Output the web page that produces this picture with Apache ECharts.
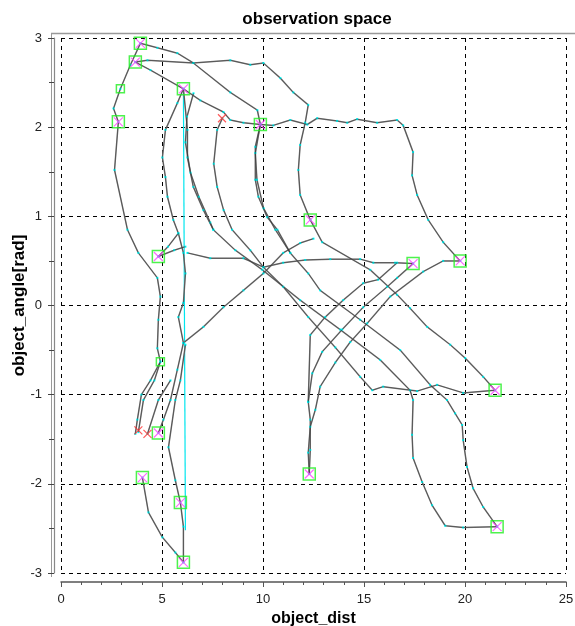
<!DOCTYPE html>
<html>
<head>
<meta charset="utf-8">
<script src="https://cdn.jsdelivr.net/npm/echarts@6/dist/echarts.min.js"></script>
<style>
  html, body { margin: 0; padding: 0; background: #fff; }
  #chart { width: 575px; height: 626px; }
</style>
</head>
<body>
<div id="chart"></div>
<script>
// Axis setup
const xTicks = [0, 5, 10, 15, 20, 25];
const yTicks = [-3, -2, -1, 0, 1, 2, 3];

// Trajectories in observation space: [object_dist, object_angle]
const trackTopArc = [[3.68,2.73],[4.28,2.75],[6.55,2.72],[8.38,2.75],[9.37,2.70],[10.02,2.72],[10.86,2.55],[11.50,2.39],[12.24,2.25],[12.09,2.05],[11.84,1.80],[11.75,1.52],[11.84,1.24],[12.34,0.96]];
const trackTopDiag = [[3.93,2.94],[4.77,2.89],[5.76,2.83],[6.55,2.72],[8.38,2.39],[9.72,2.19],[9.87,2.03]];
const trackLeftArc = [[3.93,2.94],[3.44,2.70],[2.94,2.43],[2.60,2.21],[2.84,2.06],[2.65,1.52],[3.29,0.85],[3.83,0.59],[4.77,0.31],[4.92,0.10],[4.82,-0.16],[4.77,-0.48],[4.92,-0.63],[4.43,-0.84],[3.98,-1.00],[3.78,-1.28],[3.68,-1.44]];
const trackLeftTail = [[4.92,-0.63],[4.62,-0.84],[4.08,-1.06],[3.83,-1.42]];
const trackLeftTail2 = [[5.42,-0.84],[4.82,-1.06],[4.28,-1.44]];
const trackBand = [[3.68,2.73],[4.43,2.64],[6.06,2.43],[6.90,2.30],[8.04,2.17],[8.38,2.08],[9.03,2.05],[9.87,2.03],[10.51,2.02],[11.35,2.08],[12.19,2.03],[12.68,2.10],[13.67,2.07],[14.17,2.05],[14.66,2.09],[15.65,2.05],[16.64,2.08],[16.94,2.02],[17.43,1.72],[17.38,1.46],[17.63,1.24],[18.18,0.96],[18.92,0.71],[19.76,0.50]];
const trackInnerArc = [[6.06,2.43],[5.76,2.27],[5.17,1.97],[5.02,1.66],[5.17,1.44],[5.27,1.22],[5.56,0.96],[5.81,0.81],[6.06,0.59],[6.16,0.36],[6.06,0.03],[5.81,-0.13],[6.06,-0.42],[5.76,-0.72],[5.42,-1.06],[5.07,-1.28],[4.82,-1.43]];
const trackMidArc = [[6.06,2.43],[6.26,1.97],[6.26,1.66],[6.55,1.33],[7.05,1.07],[7.54,0.85],[8.63,0.62],[9.97,0.40],[11.84,0.06],[13.82,-0.27],[15.80,-0.61],[17.28,-0.95],[17.43,-1.06],[17.38,-1.45],[17.43,-1.71],[17.88,-1.98],[18.37,-2.24],[19.02,-2.47],[19.91,-2.49],[21.59,-2.48]];
const trackMidArc2 = [[6.56,2.38],[6.24,2.12],[6.16,1.83],[6.41,1.49],[6.82,1.22],[7.39,0.93],[7.54,0.85]];
const trackOuterArc = [[7.99,2.10],[7.73,1.97],[7.56,1.59],[7.73,1.33],[8.05,1.07],[8.47,0.85],[9.37,0.62],[10.02,0.43],[11.00,0.21],[12.24,-0.13],[13.58,-0.47],[14.81,-0.80],[15.41,-0.95],[15.95,-0.91],[17.63,-0.96],[18.62,-0.89],[19.91,-0.98],[21.49,-0.95]];
const trackFarArc = [[9.87,2.03],[9.62,1.78],[9.62,1.41],[9.77,1.22],[10.21,0.99],[10.71,0.85],[11.35,0.59],[12.24,0.36],[12.83,0.17],[14.81,-0.16],[16.79,-0.50],[18.27,-0.89],[19.11,-1.06],[19.51,-1.21],[19.86,-1.34],[19.91,-1.51],[20.10,-1.81],[20.40,-2.05],[20.90,-2.26],[21.59,-2.48]];
const trackFarArc2 = [[9.87,2.03],[9.62,1.71],[9.70,1.41],[10.03,1.09],[10.61,0.85],[11.35,0.59]];
const trackCrossA = [[12.34,0.96],[12.93,0.71],[15.31,0.40],[16.64,0.12],[17.28,-0.03],[18.13,-0.24],[19.27,-0.44],[20.01,-0.59],[20.90,-0.80],[21.49,-0.95]];
const trackReturnA = [[17.43,0.47],[16.64,0.31],[16.15,0.21],[14.96,-0.02],[13.92,-0.27],[12.93,-0.52],[12.44,-0.76],[12.24,-1.08],[12.34,-1.28],[12.34,-1.62],[12.29,-1.89]];
const trackReturnB = [[19.76,0.50],[18.92,0.50],[17.93,0.38],[16.30,0.10],[15.16,-0.20],[14.32,-0.41],[13.58,-0.64],[12.83,-0.91],[12.59,-1.17],[12.34,-1.36],[12.24,-1.65],[12.29,-1.89]];
const trackReturnC = [[16.64,0.48],[15.70,0.29],[14.96,0.25],[13.97,0.06],[13.08,-0.13],[12.34,-0.33],[12.24,-1.08]];
const trackMidBand = [[6.26,0.59],[7.39,0.53],[9.03,0.53],[10.02,0.43],[11.00,0.48],[12.09,0.51],[13.33,0.52],[14.81,0.52],[15.46,0.48],[16.54,0.48],[17.43,0.47]];
const trackRise = [[6.06,-0.42],[7.05,-0.24],[8.04,-0.02],[9.03,0.17],[10.02,0.36],[11.00,0.59],[11.84,0.70],[12.50,0.75]];
const trackBoxLink = [[4.82,0.55],[5.30,0.66],[5.81,0.81]];
const trackBoxLink2 = [[4.82,0.55],[5.60,0.62],[6.16,0.66]];
const trackLowHook = [[4.03,-1.93],[4.33,-2.32],[5.02,-2.60],[5.66,-2.77],[6.06,-2.88]];
const trackLowArc = [[6.16,-0.44],[5.91,-0.84],[5.66,-1.06],[5.32,-1.59],[5.66,-1.96],[5.91,-2.21],[6.06,-2.48],[6.06,-2.88]];
const trackStraight = [[6.06,2.43],[6.16,-2.52]];

// Start markers (boxed crosses) and extra markers
const startPoints = [[3.93,2.94],[3.68,2.73],[2.84,2.06],[6.06,2.43],[9.87,2.03],[12.34,0.96],[4.82,0.55],[17.43,0.47],[19.76,0.50],[21.49,-0.95],[4.82,-1.43],[4.03,-1.93],[5.91,-2.21],[6.06,-2.88],[12.29,-1.89],[21.59,-2.48]];
const plainBoxes = [[2.94,2.43],[4.92,-0.63]];
const endCrosses = [[7.97,2.10],[3.83,-1.40],[4.28,-1.44]];

const greyTracks = [trackTopArc, trackTopDiag, trackLeftArc, trackLeftTail, trackLeftTail2, trackBand, trackInnerArc, trackMidArc, trackMidArc2, trackOuterArc, trackFarArc, trackFarArc2, trackCrossA, trackReturnA, trackReturnB, trackReturnC, trackMidBand, trackRise, trackBoxLink, trackBoxLink2, trackLowHook, trackLowArc];

const chart = echarts.init(document.getElementById('chart'), null, { renderer: 'canvas' });

const series = [];
greyTracks.forEach(function (t) {
  series.push({
    type: 'line', data: t, silent: true, animation: false,
    lineStyle: { color: '#808080', width: 1.5 },
    symbol: 'rect', symbolSize: 2, showSymbol: true,
    itemStyle: { color: '#00ffff' }, z: 3
  });
  series.push({
    type: 'line', data: t, silent: true, animation: false,
    lineStyle: { color: '#000000', width: 0.6, opacity: 0.55 },
    symbol: 'none', z: 4
  });
});
series.push({
  type: 'line', data: trackStraight, silent: true, animation: false,
  lineStyle: { color: '#00e5ee', width: 1.2 }, symbol: 'none', z: 2
});
series.push({
  type: 'scatter', data: startPoints, silent: true, animation: false,
  symbol: 'rect', symbolSize: 12,
  itemStyle: { color: 'rgba(0,0,0,0)', borderColor: '#22ee22', borderWidth: 1.5 }, z: 6
});
series.push({
  type: 'scatter', data: plainBoxes, silent: true, animation: false,
  symbol: 'rect', symbolSize: 8,
  itemStyle: { color: 'rgba(0,0,0,0)', borderColor: '#22ee22', borderWidth: 1.5 }, z: 6
});
const crossPath = 'path://M0,0L10,10M10,0L0,10';
series.push({
  type: 'scatter', data: startPoints, silent: true, animation: false,
  symbol: crossPath, symbolSize: 9,
  itemStyle: { color: 'none', borderColor: '#ff44ff', borderWidth: 1.2 }, z: 7
});
series.push({
  type: 'scatter', data: endCrosses, silent: true, animation: false,
  symbol: crossPath, symbolSize: 8,
  itemStyle: { color: 'none', borderColor: '#ff3030', borderWidth: 1.2 }, z: 7
});

chart.setOption({
  animation: false,
  backgroundColor: '#ffffff',
  title: {
    text: 'observation space', left: 312, top: 6, textAlign: 'center',
    textStyle: { fontFamily: 'Liberation Sans', fontSize: 17, fontWeight: 'bold', color: '#000' }
  },
  grid: { left: 61, right: 9, top: 38, bottom: 53, containLabel: false, outerBoundsMode: 'none' },
  xAxis: {
    type: 'value', min: xTicks[0], max: xTicks[xTicks.length - 1], interval: 5,
    offset: 9,
    name: 'object_dist', nameLocation: 'middle', nameGap: 29,
    nameTextStyle: { fontFamily: 'Liberation Sans', fontSize: 16, fontWeight: 'bold', color: '#000' },
    axisLine: { show: true, onZero: false, lineStyle: { color: '#555', width: 1.5 } },
    axisTick: { show: true, length: 5, lineStyle: { color: '#555' } },
    minorTick: { show: true, splitNumber: 5, length: 3, lineStyle: { color: '#555' } },
    axisLabel: { fontFamily: 'Liberation Sans', fontSize: 13, color: '#222', margin: 11 },
    splitLine: { show: true, lineStyle: { color: '#000', type: [4, 4], width: 1 } }
  },
  yAxis: {
    type: 'value', min: yTicks[0], max: yTicks[yTicks.length - 1], interval: 1,
    offset: 7,
    name: 'object_angle[rad]', nameLocation: 'middle', nameGap: 26, nameMoveOverlap: false,
    nameTextStyle: { fontFamily: 'Liberation Sans', fontSize: 17, fontWeight: 'bold', color: '#000' },
    axisLine: { show: true, onZero: false, lineStyle: { color: '#888', width: 1.2 } },
    axisTick: { show: true, length: 6, lineStyle: { color: '#444' } },
    minorTick: { show: true, splitNumber: 2, length: 5, lineStyle: { color: '#444' } },
    axisLabel: { fontFamily: 'Liberation Sans', fontSize: 13, color: '#222', margin: 12 },
    splitLine: { show: true, lineStyle: { color: '#000', type: [4, 4], width: 1 } }
  },
  graphic: [
    { type: 'line', shape: { x1: 51.5, y1: 33, x2: 51.5, y2: 577 }, style: { stroke: '#999', lineWidth: 1 }, silent: true },
    { type: 'line', shape: { x1: 51, y1: 33.5, x2: 575, y2: 33.5 }, style: { stroke: '#999', lineWidth: 1.5 }, silent: true }
  ],
  series: series
});
</script>
</body>
</html>
